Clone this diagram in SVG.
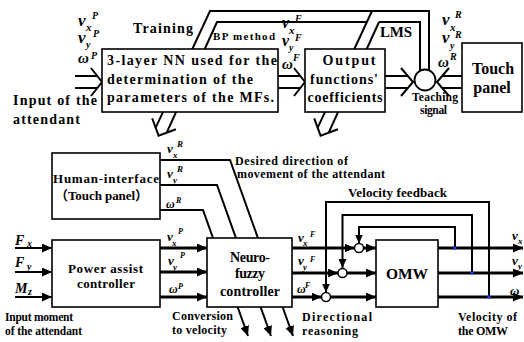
<svg xmlns="http://www.w3.org/2000/svg" width="524" height="342" viewBox="0 0 524 342">
<defs>
<marker id="ah" markerUnits="userSpaceOnUse" markerWidth="11" markerHeight="9" refX="10" refY="4.5" orient="auto"><path d="M0,0 L10,4.5 L0,9 z" fill="#000"/></marker>
<marker id="ahs" markerUnits="userSpaceOnUse" markerWidth="10" markerHeight="8" refX="9" refY="4" orient="auto"><path d="M0,0 L9,4 L0,8 z" fill="#000"/></marker>
<style>
.t{font-family:"Liberation Serif","Times New Roman",serif;font-weight:bold;fill:#000}
.c{font-family:"Liberation Serif","Noto Sans CJK SC",serif;font-weight:bold;fill:#000}
.m{font-family:"Liberation Serif","Times New Roman",serif;font-weight:bold;font-style:italic;fill:#000}
.box{fill:#fff;stroke:#000;stroke-width:1.6}
.w{fill:none;stroke:#000;stroke-width:2}
.th{fill:none;stroke:#000;stroke-width:3}
.fb{fill:none;stroke:#000;stroke-width:2}
.dot{fill:#1f3fd6}
</style>
</defs>
<rect width="524" height="342" fill="#fff"/>

<g id="connectors">
  <!-- top double arrows -->
  <path class="w" d="M75,76 H97 M75,88 H97 M91,68 L102,82 L91,96"/>
  <path class="w" d="M278,76 H300 M278,88 H300 M294,68 L305,82 L294,96"/>
  <path class="w" d="M385,76 H408 M385,88 H408 M401,68 L413,82 L401,96"/>
  <path class="w" d="M462,76 H442 M462,88 H442 M449,68 L437,82 L449,96"/>
  <!-- teaching signal feedback bus -->
  <path class="w" d="M429,71 V11 H210 L155.7,127.7"/>
  <path class="w" d="M420,71 V22 H379 M367,22 H217 L166.6,132.8"/>
  <path class="w" d="M152.2,118.4 L158.6,135.7 L175.9,129.3"/>
  <path class="w" d="M372,11 L317.7,127.7 M379,22 L328.6,132.8"/>
  <path class="w" d="M314.2,118.4 L320.6,135.7 L337.9,129.3"/>
  <!-- human interface outputs -->
  <path class="w" d="M160,160 H230 L293,336" marker-end="url(#ah)"/>
  <path class="w" d="M160,185 H217 L271,336" marker-end="url(#ah)"/>
  <path class="w" d="M160,210 H203 L248,336" marker-end="url(#ah)"/>
  <!-- inputs -->
  <path class="w" stroke-width="2.5" d="M15,248 H52" marker-end="url(#ah)"/>
  <path class="w" stroke-width="2.5" d="M15,272 H52" marker-end="url(#ah)"/>
  <path class="w" stroke-width="2.5" d="M15,297 H52" marker-end="url(#ah)"/>
  <!-- PAC to NFC -->
  <path class="th" d="M160,248 H207" marker-end="url(#ah)"/>
  <path class="th" d="M160,272 H207" marker-end="url(#ah)"/>
  <path class="th" d="M160,297 H207" marker-end="url(#ah)"/>
  <!-- NFC to summing junctions -->
  <path class="th" d="M292,248 H354.5" marker-end="url(#ah)"/>
  <path class="th" d="M292,273 H338" marker-end="url(#ah)"/>
  <path class="th" d="M292,297 H321.5" marker-end="url(#ah)"/>
  <!-- junctions to OMW -->
  <path class="th" d="M363.5,248 H376" marker-end="url(#ah)"/>
  <path class="th" d="M347,273 H376" marker-end="url(#ah)"/>
  <path class="th" d="M330.5,297 H376" marker-end="url(#ah)"/>
  <!-- OMW outputs -->
  <path class="th" d="M438,248 H523" marker-end="url(#ah)"/>
  <path class="th" d="M438,273 H523" marker-end="url(#ah)"/>
  <path class="th" d="M438,297 H523" marker-end="url(#ah)"/>
  <!-- velocity feedback -->
  <path class="fb" d="M455,248 V227 H359 V243.5" marker-end="url(#ahs)"/>
  <path class="fb" d="M472,273 V215 H342.5 V268" marker-end="url(#ahs)"/>
  <path class="fb" d="M489,297 V202 H326 V292.5" marker-end="url(#ahs)"/>
  <rect class="dot" x="453.5" y="246.5" width="3" height="3"/>
  <rect class="dot" x="470.5" y="271.5" width="3" height="3"/>
  <rect class="dot" x="487.5" y="295.5" width="3" height="3"/>
</g>

<g id="nn">
  <rect class="box" x="102" y="49" width="176" height="63"/>
  <text class="t" x="107" y="65" font-size="14" textLength="170" lengthAdjust="spacing">3-layer NN used for the</text>
  <text class="t" x="107" y="83.5" font-size="14" textLength="146" lengthAdjust="spacing">determination of the</text>
  <text class="t" x="107" y="102" font-size="14" textLength="167" lengthAdjust="spacing">parameters of the MFs.</text>
</g>
<g id="outfun">
  <rect class="box" x="305" y="49" width="80" height="63"/>
  <text class="t" x="349" y="65" font-size="14" text-anchor="middle" textLength="53" lengthAdjust="spacing">Output</text>
  <text class="t" x="344" y="83.5" font-size="14" text-anchor="middle" textLength="68" lengthAdjust="spacing">functions'</text>
  <text class="t" x="345" y="102" font-size="14" text-anchor="middle" textLength="75" lengthAdjust="spacing">coefficients</text>
</g>
<g id="teach">
  <circle cx="425" cy="80" r="10.5" fill="#fff" stroke="#000" stroke-width="1.8"/>
  <text class="t" x="412" y="101" font-size="11.5" textLength="46" lengthAdjust="spacing">Teaching</text>
  <text class="t" x="420" y="114" font-size="11.5" textLength="27" lengthAdjust="spacing">signal</text>
</g>
<g id="touch">
  <rect class="box" x="462" y="43" width="60" height="69"/>
  <text class="t" x="493" y="74" font-size="16" text-anchor="middle">Touch</text>
  <text class="t" x="492" y="93" font-size="16" text-anchor="middle">panel</text>
</g>
<g id="toplabels">
  <text class="t" x="133" y="33" font-size="14" textLength="60" lengthAdjust="spacing">Training</text>
  <text class="t" x="213" y="40" font-size="11" textLength="62" lengthAdjust="spacing">BP method</text>
  <text class="t" x="380" y="37" font-size="15" textLength="32" lengthAdjust="spacing">LMS</text>
  <text class="t" x="13" y="105" font-size="14" textLength="84" lengthAdjust="spacing">Input of the</text>
  <text class="t" x="13" y="124" font-size="14" textLength="67" lengthAdjust="spacing">attendant</text>
  <text class="m" x="78" y="26" font-size="17">v</text><text class="m" x="86" y="31" font-size="11">x</text><text class="m" x="92" y="19" font-size="10">P</text>
  <text class="m" x="78" y="43" font-size="17">v</text><text class="m" x="86" y="48" font-size="10">y</text><text class="m" x="93" y="37" font-size="10">P</text>
  <text class="m" x="78" y="63" font-size="15">ω</text><text class="m" x="91" y="59" font-size="10">P</text>
  <text class="m" x="282" y="28" font-size="16">v</text><text class="m" x="289" y="34" font-size="11">x</text><text class="m" x="295" y="22" font-size="10">F</text>
  <text class="m" x="282" y="46" font-size="16">v</text><text class="m" x="289" y="51" font-size="10">y</text><text class="m" x="295" y="41" font-size="10">F</text>
  <text class="m" x="282" y="69" font-size="15">ω</text><text class="m" x="293" y="61" font-size="10">F</text>
  <text class="m" x="442" y="25" font-size="17">v</text><text class="m" x="450" y="31" font-size="11">x</text><text class="m" x="455" y="18" font-size="10">R</text>
  <text class="m" x="442" y="43" font-size="17">v</text><text class="m" x="450" y="49" font-size="10">y</text><text class="m" x="455" y="38" font-size="10">R</text>
  <text class="m" x="438" y="67" font-size="15">ω</text><text class="m" x="450" y="60" font-size="10">R</text>
</g>

<g id="hmi">
  <rect class="box" x="52" y="153" width="108" height="66"/>
  <text class="t" x="53" y="183" font-size="13" textLength="106" lengthAdjust="spacing">Human-interface</text>
  <text class="c" x="55" y="200" font-size="13" textLength="93" lengthAdjust="spacing">（Touch panel）</text>
</g>
<g id="pac">
  <rect class="box" x="52" y="240" width="108" height="67"/>
  <text class="t" x="68" y="273" font-size="13" textLength="75" lengthAdjust="spacing">Power assist</text>
  <text class="t" x="77" y="288" font-size="13" textLength="58" lengthAdjust="spacing">controller</text>
</g>
<g id="nfc">
  <rect class="box" x="207" y="238" width="85" height="69"/>
  <text class="t" x="230" y="262" font-size="14" textLength="40" lengthAdjust="spacing">Neuro-</text>
  <text class="t" x="235" y="278" font-size="14" textLength="30" lengthAdjust="spacing">fuzzy</text>
  <text class="t" x="220" y="296" font-size="14" textLength="60" lengthAdjust="spacing">controller</text>
</g>
<g id="omw">
  <rect class="box" x="376" y="240" width="62" height="67"/>
  <text class="t" x="407" y="279" font-size="15.5" text-anchor="middle">OMW</text>
</g>
<g id="sum1"><circle cx="359" cy="248" r="4.5" fill="#fff" stroke="#000" stroke-width="1.5"/></g>
<g id="sum2"><circle cx="342.5" cy="273" r="4.5" fill="#fff" stroke="#000" stroke-width="1.5"/></g>
<g id="sum3"><circle cx="326" cy="297" r="4.5" fill="#fff" stroke="#000" stroke-width="1.5"/></g>

<g id="bottomlabels">
  <text class="t" x="235" y="165" font-size="12" textLength="113" lengthAdjust="spacing">Desired direction of</text>
  <text class="t" x="237" y="178" font-size="12" textLength="148" lengthAdjust="spacing">movement of the attendant</text>
  <text class="t" x="348" y="197" font-size="13" textLength="99" lengthAdjust="spacing">Velocity feedback</text>
  <text class="t" x="5" y="321" font-size="11.5" textLength="68" lengthAdjust="spacing">Input moment</text>
  <text class="t" x="5" y="335" font-size="11.5" textLength="77" lengthAdjust="spacing">of the attendant</text>
  <text class="t" x="172" y="320" font-size="12" textLength="61" lengthAdjust="spacing">Conversion</text>
  <text class="t" x="172" y="334" font-size="12" textLength="55" lengthAdjust="spacing">to velocity</text>
  <text class="t" x="302" y="321" font-size="12" textLength="70" lengthAdjust="spacing">Directional</text>
  <text class="t" x="302" y="335" font-size="12" textLength="56" lengthAdjust="spacing">reasoning</text>
  <text class="t" x="458" y="321" font-size="12" textLength="59" lengthAdjust="spacing">Velocity of</text>
  <text class="t" x="458" y="335" font-size="12" textLength="50" lengthAdjust="spacing">the OMW</text>
  <text class="m" x="167" y="153" font-size="13">v</text><text class="m" x="173" y="158" font-size="9">x</text><text class="m" x="177" y="147" font-size="9">R</text>
  <text class="m" x="167" y="178" font-size="13">v</text><text class="m" x="173" y="183" font-size="9">y</text><text class="m" x="177" y="172" font-size="9">R</text>
  <text class="m" x="166" y="208" font-size="12">ω</text><text class="m" x="176" y="203" font-size="8">R</text>
  <text class="m" x="15" y="245" font-size="14">F</text><text class="m" x="27" y="247" font-size="10">x</text>
  <text class="m" x="15" y="267" font-size="14">F</text><text class="m" x="27" y="270" font-size="10">y</text>
  <text class="m" x="15" y="293" font-size="14">M</text><text class="m" x="28" y="295" font-size="10">z</text>
  <text class="m" x="167" y="241" font-size="13">v</text><text class="m" x="172" y="246" font-size="9">x</text><text class="m" x="178" y="234" font-size="8">P</text>
  <text class="m" x="168" y="265" font-size="13">v</text><text class="m" x="173" y="270" font-size="9">y</text><text class="m" x="180" y="258" font-size="8">P</text>
  <text class="m" x="169" y="293" font-size="12">ω</text><text class="m" x="178" y="289" font-size="8">P</text>
  <text class="m" x="298" y="242" font-size="13">v</text><text class="m" x="303" y="246" font-size="9">x</text><text class="m" x="310" y="237" font-size="8">F</text>
  <text class="m" x="298" y="265" font-size="13">v</text><text class="m" x="303" y="270" font-size="9">y</text><text class="m" x="310" y="262" font-size="8">F</text>
  <text class="m" x="297" y="293" font-size="12">ω</text><text class="m" x="305" y="288" font-size="8">F</text>
  <text class="m" x="512" y="240" font-size="13">v</text><text class="m" x="518" y="244" font-size="9">x</text>
  <text class="m" x="512" y="265" font-size="13">v</text><text class="m" x="518" y="269" font-size="9">y</text>
  <text class="m" x="510" y="295" font-size="13">ω</text>
</g>
</svg>
